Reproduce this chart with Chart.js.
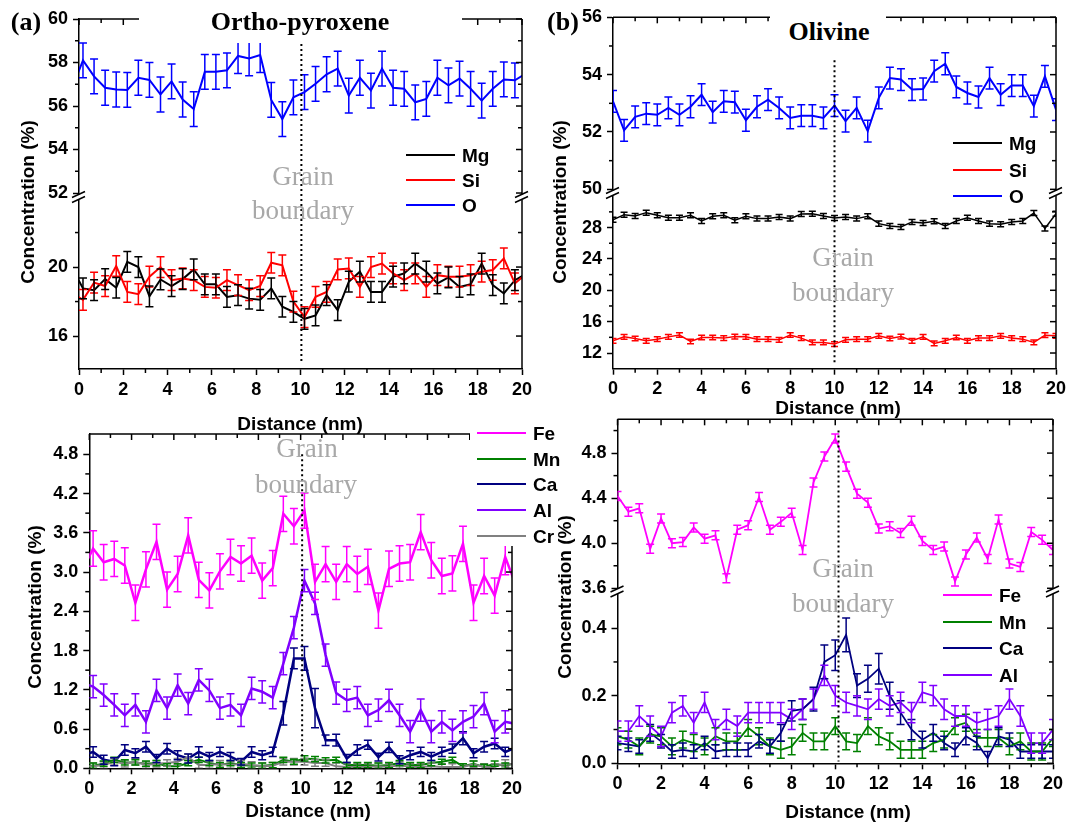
<!DOCTYPE html>
<html>
<head>
<meta charset="utf-8">
<title>Grain boundary concentration profiles</title>
<script src="https://cdn.jsdelivr.net/npm/chart.js@4.4.1/dist/chart.umd.min.js"></script>
<style>
  html, body { margin: 0; padding: 0; background: #fff; }
  #page { position: relative; width: 1072px; height: 825px; overflow: hidden; background: #fff; }
  #page canvas { position: absolute; left: 0; top: 0; }
  .lbl { position: absolute; transform: translate(-50%, -50%); white-space: nowrap; line-height: 1; }
  .serif { font-family: 'Liberation Serif', 'Times New Roman', serif; }
  .sans { font-family: 'Liberation Sans', Arial, sans-serif; font-weight: bold; }
  .panel { font-size: 26px; font-weight: bold; }
  .gb { font-size: 27px; color: #a8a8a8; }
  .axt { font-size: 19px; }
  .rot { transform: translate(-50%, -50%) rotate(-90deg); }
  .box { position: absolute; background: #fff; }
  .leg { font-size: 19px; }
</style>
</head>
<body>
<div id="page">
  <canvas id="cA1" width="1072" height="825"></canvas>
  <canvas id="cB1" width="1072" height="825"></canvas>
  <canvas id="cA2" width="1072" height="825"></canvas>
  <canvas id="cB2" width="1072" height="825"></canvas>

  <div class="box" style="left:139px;top:0;width:323px;height:43px"></div>
  <div class="box" style="left:770px;top:0;width:116px;height:57px"></div>
  <div class="box" style="left:470px;top:418px;width:105px;height:128px"></div>

  <div class="lbl serif panel" style="left:26px;top:22px">(a)</div>
  <div class="lbl serif panel" style="left:563px;top:22px">(b)</div>
  <div class="lbl serif panel" style="left:300px;top:22px">Ortho-pyroxene</div>
  <div class="lbl serif panel" style="left:829px;top:32px">Olivine</div>

  <div class="lbl serif gb" style="left:303px;top:176px">Grain</div>
  <div class="lbl serif gb" style="left:303px;top:210px">boundary</div>
  <div class="lbl serif gb" style="left:843px;top:257px">Grain</div>
  <div class="lbl serif gb" style="left:843px;top:292px">boundary</div>
  <div class="lbl serif gb" style="left:307px;top:448px">Grain</div>
  <div class="lbl serif gb" style="left:306px;top:484px">boundary</div>
  <div class="lbl serif gb" style="left:843px;top:568px">Grain</div>
  <div class="lbl serif gb" style="left:843px;top:603px">boundary</div>

  <div class="lbl sans axt rot" style="left:27px;top:202px">Concentration (%)</div>
  <div class="lbl sans axt rot" style="left:559px;top:202px">Concentration (%)</div>
  <div class="lbl sans axt rot" style="left:34px;top:607px">Concentration (%)</div>
  <div class="lbl sans axt rot" style="left:564px;top:597px">Concentration (%)</div>
  <div class="lbl sans axt" style="left:300px;top:423px">Distance (nm)</div>
  <div class="lbl sans axt" style="left:838px;top:407px">Distance (nm)</div>
  <div class="lbl sans axt" style="left:308px;top:810px">Distance (nm)</div>
  <div class="lbl sans axt" style="left:848px;top:811px">Distance (nm)</div>
</div>
<script>
// ---------- data: (a) ortho-pyroxene, sampled every 0.5 nm ----------
const xA = [-0.32, 0.18, 0.68, 1.18, 1.68, 2.18, 2.68, 3.18, 3.68, 4.18, 4.68, 5.18, 5.68, 6.18, 6.68, 7.18, 7.68, 8.18, 8.68, 9.18, 9.68,
  10.18, 10.68, 11.18, 11.68, 12.18, 12.68, 13.18, 13.68, 14.18, 14.68, 15.18, 15.68, 16.18, 16.68, 17.18, 17.68, 18.18, 18.68, 19.18, 19.68, 20.18];

const oA = [56.8, 58.1, 57.36, 56.84, 56.76, 56.74, 57.3, 57.2, 56.53, 57.13, 56.3, 55.86, 57.57, 57.57, 57.64, 58.3, 58.19, 58.34, 56.28, 55.4, 56.4,
  56.64, 57.02, 57.46, 57.72, 56.48, 57.3, 56.71, 57.72, 56.84, 56.79, 56.17, 56.33, 57.3, 56.95, 57.26, 56.79, 56.25, 56.79, 57.22, 57.18, 57.5];
const mgA = [19.96, 18.76, 18.66, 19.3, 18.8, 20.3, 20.0, 18.3, 19.28, 18.9, 19.3, 19.86, 19.0, 19.0, 18.27, 18.37, 18.17, 18.1, 18.76, 17.7, 17.4,
  17.0, 17.2, 18.37, 17.5, 19.15, 19.73, 18.56, 18.56, 19.44, 19.63, 20.2, 19.73, 19.05, 19.4, 18.85, 19.0, 20.2, 18.95, 18.47, 19.24, 19.6];
const siA = [18.5, 18.1, 19.1, 18.9, 20.06, 18.56, 18.43, 19.44, 20.0, 19.24, 19.34, 19.24, 18.85, 18.8, 19.24, 18.95, 18.66, 18.9, 20.25, 20.1, 18.0,
  17.1, 18.27, 18.56, 19.86, 19.92, 18.85, 20.0, 20.2, 19.63, 19.24, 19.63, 18.85, 19.53, 19.44, 19.44, 19.53, 19.73, 19.83, 20.5, 19.05, 19.6];

const feA = [3.03, 3.36, 3.15, 3.2, 3.1, 2.53, 3.04, 3.46, 2.73, 2.97, 3.56, 2.88, 2.72, 3.01, 3.23, 3.13, 3.25, 2.87, 3.06, 3.89, 3.7,
  3.94, 2.85, 3.12, 2.85, 3.12, 2.97, 3.08, 2.41, 3.05, 3.13, 3.15, 3.61, 3.18, 2.94, 2.98, 3.43, 2.53, 2.94, 2.64, 3.23, 2.8];
const mnA = [0.04, 0.04, 0.07, 0.13, 0.09, 0.09, 0.07, 0.08, 0.03, 0.03, 0.08, 0.13, 0.08, 0.05, 0.08, 0.05, 0.04, 0.04, 0.05, 0.13, 0.1,
  0.15, 0.14, 0.12, 0.13, 0.05, 0.05, 0.05, 0.04, 0.05, 0.08, 0.05, 0.05, 0.08, 0.1, 0.13, 0.03, 0.07, 0.02, 0.07, 0.04, 0.08];
const caA = [0.2, 0.25, 0.13, 0.1, 0.28, 0.23, 0.33, 0.15, 0.3, 0.2, 0.15, 0.25, 0.18, 0.25, 0.18, 0.1, 0.25, 0.2, 0.25, 0.84, 1.68,
  1.68, 0.92, 0.43, 0.43, 0.15, 0.28, 0.36, 0.17, 0.32, 0.13, 0.2, 0.25, 0.18, 0.25, 0.3, 0.46, 0.23, 0.33, 0.38, 0.25, 0.32];
const alA = [1.3, 1.25, 1.12, 0.97, 0.81, 0.97, 0.71, 1.19, 0.92, 1.27, 0.99, 1.35, 1.19, 0.92, 0.97, 0.81, 1.22, 1.17, 1.08, 1.6, 2.15,
  2.87, 2.52, 1.73, 1.15, 1.04, 1.08, 0.81, 0.89, 1.04, 0.81, 0.56, 0.89, 0.56, 0.71, 0.58, 0.71, 0.79, 0.99, 0.56, 0.71, 0.68];
const crA = [0.03, 0.03, 0.05, 0.1, 0.07, 0.1, 0.05, 0.07, 0.08, 0.1, 0.17, 0.05, 0.05, 0.07, 0.05, 0.07, 0.05, 0.03, 0.04, 0.1, 0.1,
  0.1, 0.08, 0.08, 0.03, 0.02, 0.02, 0.02, 0.03, 0.02, 0.05, 0.02, 0.02, 0.03, 0.02, 0.02, 0.02, 0.06, 0.02, 0.02, 0.08, 0.05];
const errCaA = [0.08, 0.08, 0.07, 0.06, 0.08, 0.07, 0.08, 0.06, 0.08, 0.07, 0.07, 0.08, 0.06, 0.07, 0.06, 0.05, 0.08, 0.07, 0.07, 0.18, 0.16,
  0.18, 0.3, 0.08, 0.09, 0.06, 0.08, 0.07, 0.06, 0.08, 0.06, 0.07, 0.07, 0.06, 0.07, 0.07, 0.1, 0.07, 0.08, 0.08, 0.07, 0.07];

// ---------- data: (b) olivine ----------
const xB = [0, 0.5, 1, 1.5, 2, 2.5, 3, 3.5, 4, 4.5, 5, 5.5, 6, 6.5, 7, 7.5, 8, 8.5, 9, 9.5, 10,
  10.5, 11, 11.5, 12, 12.5, 13, 13.5, 14, 14.5, 15, 15.5, 16, 16.5, 17, 17.5, 18, 18.5, 19, 19.5, 20];

const oB = [53.07, 52.06, 52.53, 52.64, 52.6, 52.84, 52.6, 52.88, 53.3, 52.69, 53.07, 53.04, 52.41, 52.88, 53.13, 52.84, 52.49, 52.57, 52.57, 52.49, 52.92,
  52.38, 52.84, 52.03, 53.19, 53.88, 53.83, 53.48, 53.5, 54.12, 54.38, 53.57, 53.36, 53.22, 53.88, 53.3, 53.62, 53.62, 52.9, 53.94, 52.78];
const mgB = [29.0, 29.64, 29.47, 29.9, 29.56, 29.26, 29.26, 29.56, 28.84, 29.43, 29.56, 28.93, 29.43, 29.14, 29.14, 29.35, 29.14, 29.72, 29.77, 29.47, 29.22,
  29.35, 29.14, 29.43, 28.5, 28.21, 28.08, 28.72, 28.59, 28.8, 28.21, 28.84, 29.26, 28.84, 28.5, 28.42, 28.72, 28.84, 29.85, 27.87, 29.77];
const siB = [13.56, 14.06, 13.85, 13.56, 13.77, 14.06, 14.3, 13.47, 13.98, 13.98, 13.9, 14.1, 14.06, 13.77, 13.77, 13.68, 14.3, 13.9, 13.35, 13.35, 13.14,
  13.68, 13.77, 13.77, 14.19, 13.85, 14.1, 13.56, 14.06, 13.22, 13.56, 13.98, 13.56, 13.9, 13.9, 14.19, 13.9, 13.77, 13.35, 14.27, 14.19];

const feB = [4.42, 4.28, 4.31, 3.95, 4.22, 4.0, 4.01, 4.14, 4.04, 4.07, 3.69, 4.12, 4.16, 4.41, 4.12, 4.19, 4.27, 3.94, 4.54, 4.77, 4.93,
  4.68, 4.44, 4.36, 4.13, 4.15, 4.09, 4.2, 4.02, 3.94, 3.97, 3.66, 3.9, 4.05, 3.86, 4.21, 3.82, 3.79, 4.1, 4.03, 3.94];
const mnB = [0.08, 0.07, 0.05, 0.085, 0.08, 0.05, 0.07, 0.06, 0.05, 0.08, 0.065, 0.065, 0.105, 0.08, 0.05, 0.04, 0.05, 0.09, 0.065, 0.065, 0.11,
  0.065, 0.06, 0.11, 0.08, 0.065, 0.04, 0.04, 0.04, 0.06, 0.07, 0.11, 0.12, 0.075, 0.075, 0.075, 0.05, 0.065, 0.035, 0.035, 0.075];
const caB = [0.06, 0.055, 0.05, 0.09, 0.065, 0.035, 0.04, 0.035, 0.06, 0.035, 0.04, 0.04, 0.04, 0.065, 0.05, 0.09, 0.155, 0.16, 0.19, 0.3, 0.32,
  0.38, 0.23, 0.25, 0.28, 0.2, 0.15, 0.1, 0.07, 0.09, 0.06, 0.04, 0.08, 0.06, 0.015, 0.08, 0.07, 0.035, 0.035, 0.035, 0.035];
const alB = [0.095, 0.095, 0.14, 0.11, 0.08, 0.15, 0.17, 0.12, 0.18, 0.10, 0.13, 0.11, 0.15, 0.15, 0.15, 0.15, 0.13, 0.16, 0.19, 0.26, 0.2,
  0.18, 0.17, 0.16, 0.19, 0.17, 0.18, 0.15, 0.21, 0.2, 0.16, 0.14, 0.14, 0.12, 0.13, 0.14, 0.19, 0.14, 0.06, 0.06, 0.1];
const errCaB = [0.02, 0.02, 0.02, 0.025, 0.02, 0.02, 0.02, 0.02, 0.02, 0.02, 0.02, 0.02, 0.02, 0.02, 0.02, 0.025, 0.03, 0.03, 0.035, 0.05, 0.045,
  0.05, 0.035, 0.04, 0.045, 0.04, 0.035, 0.03, 0.025, 0.025, 0.02, 0.02, 0.025, 0.02, 0.02, 0.025, 0.02, 0.02, 0.02, 0.02, 0.02];

// error bar half-widths
const errA = { O: 0.8, Mg: 0.6, Si: 0.6, Fe: 0.27, Mn: 0.04, Al: 0.17, Cr: 0.05 };
const errB = { O: 0.38, Mg: 0.32, Si: 0.3, Fe: 0.04, Mn: 0.025, Al: 0.03 };

// ---------- axes ----------
const xTicks = [0, 2, 4, 6, 8, 10, 12, 14, 16, 18, 20];
const xMinor = [1, 3, 5, 7, 9, 11, 13, 15, 17, 19];
const yA1Upper = [52, 54, 56, 58, 60], yA1UpperMinor = [53, 55, 57, 59];
const yA1Lower = [16, 20], yA1LowerMinor = [18, 22];
const yB1Upper = [50, 52, 54, 56], yB1UpperMinor = [51, 53, 55];
const yB1Lower = [12, 16, 20, 24, 28], yB1LowerMinor = [14, 18, 22, 26, 30];
const yA2 = [0, 0.6, 1.2, 1.8, 2.4, 3.0, 3.6, 4.2, 4.8], yA2Minor = [0.3, 0.9, 1.5, 2.1, 2.7, 3.3, 3.9, 4.5];
const yB2Upper = [3.6, 4.0, 4.4, 4.8], yB2UpperMinor = [3.8, 4.2, 4.6, 5.0];
const yB2Lower = [0, 0.2, 0.4], yB2LowerMinor = [0.1, 0.3];

const colors = { O: '#0000ff', Mg: '#000000', Si: '#ff0000', Fe: '#ff00ff', Mn: '#008000', Ca: '#000080', Al: '#8000ff', Cr: '#808080' };

const W = 1072, H = 825, YW = 60, XH = 30;
const FONT = "'Liberation Sans', Arial, sans-serif";
Chart.defaults.font.family = FONT;
Chart.defaults.color = '#000';

// error bars drawn from each dataset's err (number or array)
const errorBars = {
  id: 'errorBars',
  afterDatasetsDraw(chart) {
    const { ctx, chartArea: a } = chart;
    const xs = chart.scales.x;
    ctx.save();
    ctx.beginPath();
    ctx.rect(a.left, a.top, a.right - a.left, a.bottom - a.top);
    ctx.clip();
    chart.data.datasets.forEach((ds, i) => {
      const meta = chart.getDatasetMeta(i);
      const ys = chart.scales[meta.yAxisID];
      ctx.strokeStyle = ds.borderColor;
      ctx.lineWidth = ds.errWidth || 1.5;
      const c = ds.cap || 4;
      ds.data.forEach((p, j) => {
        if (p.x < xs.min || p.x > xs.max) return;
        const e = Array.isArray(ds.err) ? ds.err[j] : ds.err;
        const px = xs.getPixelForValue(p.x);
        const y1 = ys.getPixelForValue(p.y + e), y2 = ys.getPixelForValue(p.y - e);
        ctx.beginPath();
        ctx.moveTo(px, y1); ctx.lineTo(px, y2);
        ctx.moveTo(px - c, y1); ctx.lineTo(px + c, y1);
        ctx.moveTo(px - c, y2); ctx.lineTo(px + c, y2);
        ctx.stroke();
      });
    });
    ctx.restore();
  }
};

// box frame, minor / inward ticks, axis breaks and the dotted boundary line
const frame = {
  id: 'frame',
  afterDraw(chart, args, opts) {
    const { ctx, chartArea: a, scales } = chart;
    const xs = scales.x;
    const ys = opts.yAxes.map(id => scales[id]).sort((p, q) => p.top - q.top);
    const seg = (x1, y1, x2, y2) => { ctx.beginPath(); ctx.moveTo(x1, y1); ctx.lineTo(x2, y2); ctx.stroke(); };
    ctx.save();
    ctx.strokeStyle = '#000';
    ctx.lineWidth = 1.5;
    seg(a.left, a.top, a.right, a.top);
    seg(a.right, a.top, a.right, a.bottom);
    xs.ticks.forEach(t => { const p = xs.getPixelForValue(t.value); seg(p, a.top, p, a.top + 6); });
    xMinor.forEach(v => {
      const p = xs.getPixelForValue(v);
      seg(p, a.bottom, p, a.bottom + 4);
      seg(p, a.top, p, a.top + 4);
    });
    ys.forEach(s => {
      s.ticks.forEach(t => { const p = s.getPixelForValue(t.value); seg(a.right - 6, p, a.right, p); });
      (s.options.minorTicks || []).forEach(v => {
        const p = s.getPixelForValue(v);
        seg(a.left - 4, p, a.left, p);
        seg(a.right - 4, p, a.right, p);
      });
    });
    for (let i = 0; i < ys.length - 1; i++) {
      const b = ys[i].bottom, g0 = b - 2, g1 = b + 3;
      ctx.fillStyle = '#fff';
      [a.left, a.right].forEach(x => {
        ctx.fillRect(x - 3, g0, 6, g1 - g0);
        seg(x - 7, g0 + 3, x + 6, g0 - 3);
        seg(x - 7, g1 + 3, x + 6, g1 - 3);
      });
    }
    const d = opts.dot;
    ctx.setLineDash([2, 3]);
    ctx.lineWidth = 2;
    const dx = xs.getPixelForValue(d.x);
    seg(dx, scales[d.from[0]].getPixelForValue(d.from[1]), dx, scales[d.to[0]].getPixelForValue(d.to[1]));
    ctx.restore();
  }
};

const tickFont = { family: FONT, weight: 'bold', size: 18 };
const grid = { drawOnChartArea: false, drawTicks: true, tickLength: 6, tickWidth: 1.5, tickColor: '#000' };
const border = { display: true, color: '#000', width: 1.5 };

function series(label, xs, ys, color, err, yAxisID, width, cap) {
  return {
    label, yAxisID, err, cap, borderColor: color, backgroundColor: color,
    borderWidth: width, errWidth: 1.5, pointRadius: 0, tension: 0,
    data: xs.map((x, i) => ({ x, y: ys[i] }))
  };
}

// yAxes are listed top to bottom; left boxes are laid out in reverse, so register them bottom-first
function panel(id, box, yAxes, datasets, dot) {
  const scales = {
    x: {
      type: 'linear', position: 'bottom', min: 0, max: 20,
      afterBuildTicks: s => { s.ticks = xTicks.map(v => ({ value: v })); },
      afterFit: s => { s.height = XH; },
      grid, border,
      ticks: { font: tickFont, padding: 4, maxRotation: 0, autoSkip: false }
    }
  };
  [...yAxes].reverse().forEach(ax => {
    scales[ax.id] = {
      type: 'linear', position: 'left', min: ax.min, max: ax.max,
      stack: yAxes.length > 1 ? 'conc' : undefined, stackWeight: ax.weight,
      minorTicks: ax.minor,
      afterBuildTicks: s => { s.ticks = ax.major.map(v => ({ value: v })); },
      afterFit: s => { s.width = YW; },
      grid, border,
      ticks: { font: tickFont, padding: 5, autoSkip: false, callback: v => v.toFixed(ax.dec) }
    };
  });
  return new Chart(document.getElementById(id), {
    type: 'line',
    data: { datasets },
    options: {
      responsive: false, animation: false, devicePixelRatio: 1,
      layout: { padding: { left: box.l - YW, right: W - box.r, top: box.t, bottom: H - box.b - XH } },
      scales,
      plugins: { legend: { display: false }, tooltip: { enabled: false },
        frame: { yAxes: yAxes.map(a => a.id), dot } }
    },
    plugins: [errorBars, frame]
  });
}

// (a) top: Mg, Si, O
panel('cA1', { l: 79, r: 522, t: 19, b: 369 }, [
  { id: 'yU', min: 51.84, max: 60, weight: 177.5, major: yA1Upper, minor: yA1UpperMinor, dec: 0 },
  { id: 'yL', min: 14.09, max: 24.09, weight: 172.5, major: yA1Lower, minor: yA1LowerMinor, dec: 0 }
], [
  series('Si', xA, siA, colors.Si, errA.Si, 'yL', 2, 4),
  series('Mg', xA, mgA, colors.Mg, errA.Mg, 'yL', 2, 4),
  series('O', xA, oA, colors.O, errA.O, 'yU', 2, 4)
], { x: 10.04, from: ['yU', 60], to: ['yL', 14.5] });

// (b) top: Mg, Si, O
panel('cB1', { l: 613, r: 1056, t: 17.3, b: 368.7 }, [
  { id: 'yU', min: 49.89, max: 56, weight: 175.2, major: yB1Upper, minor: yB1UpperMinor, dec: 0 },
  { id: 'yL', min: 10, max: 32.47, weight: 176.2, major: yB1Lower, minor: yB1LowerMinor, dec: 0 }
], [
  series('Si', xB, siB, colors.Si, errB.Si, 'yL', 1.5, 3.5),
  series('Mg', xB, mgB, colors.Mg, errB.Mg, 'yL', 1.5, 3.5),
  series('O', xB, oB, colors.O, errB.O, 'yU', 2, 4)
], { x: 10, from: ['yU', 54.5], to: ['yL', 10.8] });

// (a) bottom: Fe, Mn, Ca, Al, Cr
panel('cA2', { l: 89.3, r: 512, t: 434, b: 768.3 }, [
  { id: 'y', min: 0, max: 5.11, weight: 1, major: yA2, minor: yA2Minor, dec: 1 }
], [
  series('Cr', xA, crA, colors.Cr, errA.Cr, 'y', 2, 4),
  series('Mn', xA, mnA, colors.Mn, errA.Mn, 'y', 2, 4),
  series('Ca', xA, caA, colors.Ca, errCaA, 'y', 2.5, 4),
  series('Al', xA, alA, colors.Al, errA.Al, 'y', 2.5, 4),
  series('Fe', xA, feA, colors.Fe, errA.Fe, 'y', 2.5, 4)
], { x: 10.07, from: ['y', 4.8], to: ['y', 0.05] });

// (b) bottom: Fe, Mn, Ca, Al
panel('cB2', { l: 617.5, r: 1053, t: 419.3, b: 763.3 }, [
  { id: 'yU', min: 3.576, max: 5.1, weight: 171.7, major: yB2Upper, minor: yB2UpperMinor, dec: 1 },
  { id: 'yL', min: 0, max: 0.51, weight: 172.3, major: yB2Lower, minor: yB2LowerMinor, dec: 1 }
], [
  series('Mn', xB, mnB, colors.Mn, errB.Mn, 'yL', 1.8, 4),
  series('Ca', xB, caB, colors.Ca, errCaB, 'yL', 1.8, 4),
  series('Al', xB, alB, colors.Al, errB.Al, 'yL', 1.8, 4),
  series('Fe', xB, feB, colors.Fe, errB.Fe, 'yU', 1.8, 4)
], { x: 10.15, from: ['yU', 5.0], to: ['yL', 0.005] });

// legends
const page = document.getElementById('page');
function legend(x, y0, dy, names) {
  names.forEach((n, i) => {
    const y = y0 + i * dy;
    const ln = document.createElement('div');
    ln.style.cssText = `position:absolute;left:${x}px;top:${y - 1}px;width:49px;height:2px;background:${colors[n]}`;
    const tx = document.createElement('div');
    tx.className = 'sans leg';
    tx.style.cssText = `position:absolute;left:${x + 56}px;top:${y}px;transform:translateY(-50%);line-height:1`;
    tx.textContent = n;
    page.append(ln, tx);
  });
}
legend(406, 155, 25, ['Mg', 'Si', 'O']);
legend(953, 143, 26.5, ['Mg', 'Si', 'O']);
legend(477, 433, 25.7, ['Fe', 'Mn', 'Ca', 'Al', 'Cr']);
legend(943, 595, 26.7, ['Fe', 'Mn', 'Ca', 'Al']);
</script>
</body>
</html>
